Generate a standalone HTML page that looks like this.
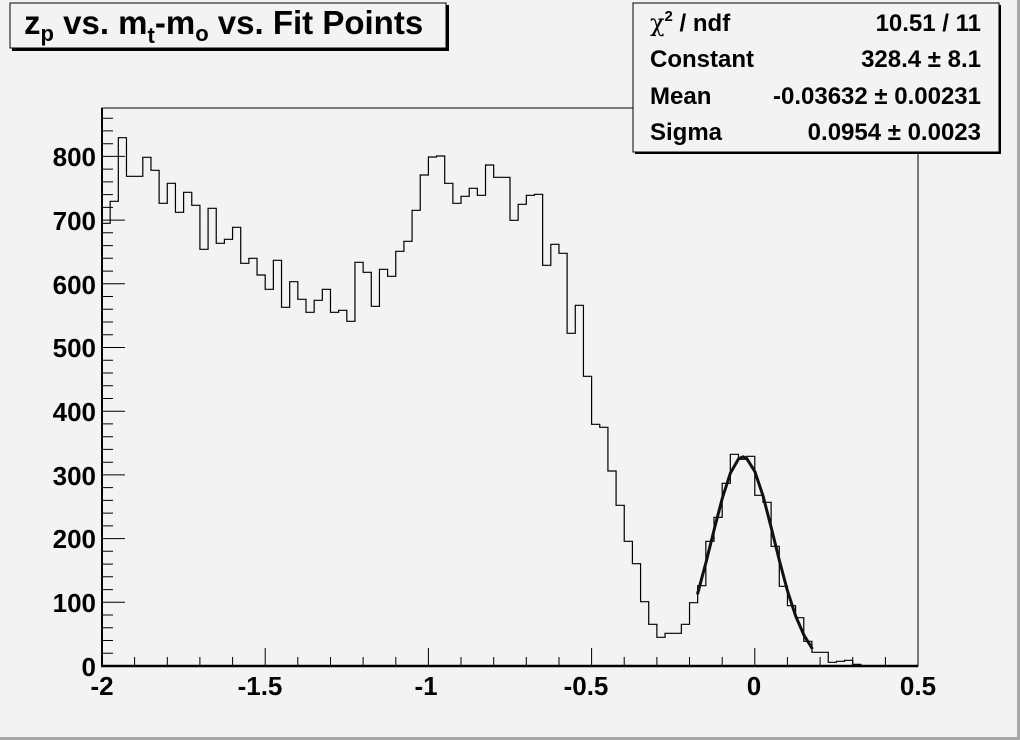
<!DOCTYPE html>
<html><head><meta charset="utf-8"><style>
html,body{margin:0;padding:0;background:#f3f3f3}
svg{display:block;font-family:"Liberation Sans",Arial,sans-serif;font-weight:bold}
</style></head><body>
<svg width="1020" height="740" viewBox="0 0 1020 740" xmlns="http://www.w3.org/2000/svg">
<rect x="0" y="0" width="1020" height="740" fill="#f3f3f3"/>
<rect x="1017" y="0" width="3" height="740" fill="#a8a8a8"/>
<rect x="0" y="737" width="1020" height="3" fill="#a8a8a8"/>
<rect x="102" y="108" width="816" height="558" fill="none" stroke="#000" stroke-width="1"/>
<path d="M102,666 V223.3 H110.16 V201.3 H118.32 V137.7 H126.48 V176.3 H142.8 V157.3 H150.96 V170.3 H159.12 V203.3 H167.28 V183.3 H175.44 V212.3 H183.6 V192.3 H191.76 V205.3 H199.92 V249.3 H208.08 V208.3 H216.24 V243.3 H224.4 V239.3 H232.56 V227.3 H240.72 V263.3 H248.88 V258.3 H257.04 V275 H265.2 V289.3 H273.36 V260.3 H281.52 V307.3 H289.68 V281.7 H297.84 V299.3 H306 V312.3 H314.16 V300.3 H322.32 V289.3 H330.48 V312.3 H338.64 V310.3 H346.8 V321.3 H354.96 V262.3 H363.12 V272.3 H371.28 V306.3 H379.44 V269.3 H387.6 V276.3 H395.76 V251.3 H403.92 V241.3 H412.08 V210.3 H420.24 V175 H428.4 V157 H436.56 V156 H444.72 V183.3 H452.88 V203.3 H461.04 V196.3 H469.2 V188.3 H477.36 V195.3 H485.52 V165 H493.68 V177.3 H510 V220.3 H518.16 V204.3 H526.32 V195.3 H534.48 V194.3 H542.64 V265.3 H550.8 V244.3 H558.96 V253.3 H567.12 V333.3 H575.28 V305.3 H583.44 V376.3 H591.6 V424.3 H599.76 V427.3 H607.92 V471 H616.08 V505.3 H624.24 V541.3 H632.4 V563.7 H640.56 V601.7 H648.72 V624.3 H656.88 V637.3 H665.04 V633.3 H681.36 V624.3 H689.52 V602.7 H697.68 V585.7 H705.84 V541.3 H714 V517.3 H722.16 V483.3 H730.32 V454.3 H738.48 V459.3 H746.64 V456.3 H754.8 V495.3 H762.96 V502.3 H771.12 V546.3 H779.28 V586.3 H787.44 V605.7 H795.6 V617.7 H803.76 V641.3 H811.92 V652.3 H828.24 V662.3 H836.4 V661.3 H844.56 V660.3 H852.72 V664.3 H860.88 V666" fill="none" stroke="#000" stroke-width="1.2"/>
<polyline points="697.7,593.3 705.8,563.2 714,530.2 722.2,498.6 730.3,473.3 738.5,458.9 742.9,456.8 746.6,458.3 754.8,471.4 763,495.8 771.1,527.1 779.3,560.1 787.4,590.6 795.6,615.9 803.8,634.9 811.9,648" fill="none" stroke="#111" stroke-width="3" stroke-linejoin="round" stroke-linecap="round"/>
<line x1="102" y1="108" x2="102" y2="667" stroke="#000" stroke-width="2"/>
<line x1="101" y1="666" x2="918" y2="666" stroke="#000" stroke-width="2.5"/>
<g stroke="#000" stroke-width="1">
<path d="M102,666h23M102,602.3h23M102,538.6h23M102,474.9h23M102,411.2h23M102,347.5h23M102,283.8h23M102,220.1h23M102,156.4h23"/>
<path d="M102,653.3h11M102,640.5h11M102,627.8h11M102,615h11M102,589.6h11M102,576.8h11M102,564.1h11M102,551.3h11M102,525.9h11M102,513.1h11M102,500.4h11M102,487.6h11M102,462.2h11M102,449.4h11M102,436.7h11M102,423.9h11M102,398.5h11M102,385.7h11M102,373h11M102,360.2h11M102,334.8h11M102,322h11M102,309.3h11M102,296.5h11M102,271.1h11M102,258.3h11M102,245.6h11M102,232.8h11M102,207.4h11M102,194.6h11M102,181.9h11M102,169.1h11M102,143.7h11M102,130.9h11M102,118.2h11"/>
<path d="M102,666v-18M265.2,666v-18M428.4,666v-18M591.6,666v-18M754.8,666v-18M918,666v-18"/>
<path d="M134.6,666v-9M167.3,666v-9M199.9,666v-9M232.6,666v-9M297.8,666v-9M330.5,666v-9M363.1,666v-9M395.8,666v-9M461,666v-9M493.7,666v-9M526.3,666v-9M559,666v-9M624.2,666v-9M656.9,666v-9M689.5,666v-9M722.2,666v-9M787.4,666v-9M820.1,666v-9M852.7,666v-9M885.4,666v-9"/>
</g>
<g font-size="26" text-anchor="end" fill="#000">
<text x="96" y="676">0</text><text x="96" y="612">100</text><text x="96" y="548">200</text><text x="96" y="485">300</text><text x="96" y="421">400</text><text x="96" y="357">500</text><text x="96" y="294">600</text><text x="96" y="230">700</text><text x="96" y="166">800</text>
</g>
<g font-size="26" text-anchor="middle" fill="#000">
<text x="102" y="695">-2</text><text x="260" y="695">-1.5</text><text x="426" y="695">-1</text><text x="586" y="695">-0.5</text><text x="754" y="695">0</text><text x="918" y="695">0.5</text>
</g>
<rect x="12" y="5" width="437" height="46" fill="#000"/>
<rect x="10" y="3" width="436" height="45" fill="#f3f3f3" stroke="#000" stroke-width="1"/>
<text x="24" y="34" font-size="33">z<tspan font-size="22" dy="7">p</tspan><tspan dy="-7"> vs. m</tspan><tspan font-size="22" dy="9">t</tspan><tspan dy="-9">-m</tspan><tspan font-size="22" dy="7">o</tspan><tspan dy="-7"> vs. Fit Points</tspan></text>
<rect x="635" y="5" width="366" height="149" fill="#000"/>
<rect x="633" y="3" width="366" height="149" fill="#f3f3f3" stroke="#000" stroke-width="1"/>
<g font-size="24" fill="#000">
<text x="650" y="31" font-family="'DejaVu Serif',serif" font-weight="normal">χ<tspan font-family="'Liberation Sans',sans-serif" font-weight="bold" font-size="15" dy="-10">2</tspan><tspan font-family="'Liberation Sans',sans-serif" font-weight="bold" font-size="24" dy="10"> / ndf</tspan></text>
<text x="650" y="67">Constant</text>
<text x="650" y="104">Mean</text>
<text x="650" y="140">Sigma</text>
</g>
<g font-size="24" fill="#000" text-anchor="end">
<text x="981" y="31">10.51 / 11</text>
<text x="981" y="67">328.4 ± 8.1</text>
<text x="981" y="104">-0.03632 ± 0.00231</text>
<text x="981" y="140">0.0954 ± 0.0023</text>
</g>
</svg>
</body></html>
